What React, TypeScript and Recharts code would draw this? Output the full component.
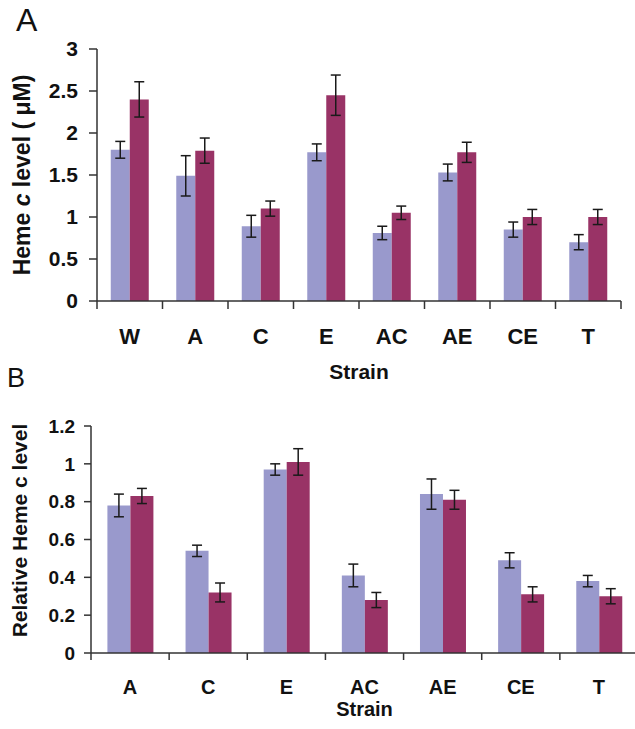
import React from 'react';
import { BarChart, Bar, XAxis, YAxis, ErrorBar, Label } from 'recharts';

const strainsA = ['W', 'A', 'C', 'E', 'AC', 'AE', 'CE', 'T'];
const lightA = [1.8, 1.49, 0.89, 1.77, 0.81, 1.53, 0.85, 0.7];
const lightErrA = [0.1, 0.24, 0.13, 0.1, 0.08, 0.1, 0.09, 0.09];
const darkA = [2.4, 1.79, 1.1, 2.45, 1.05, 1.77, 1.0, 1.0];
const darkErrA = [0.21, 0.15, 0.09, 0.24, 0.08, 0.12, 0.09, 0.09];
const ticksA = [0, 0.5, 1, 1.5, 2, 2.5, 3];

const strainsB = ['A', 'C', 'E', 'AC', 'AE', 'CE', 'T'];
const lightB = [0.78, 0.54, 0.97, 0.41, 0.84, 0.49, 0.38];
const lightErrB = [0.06, 0.03, 0.03, 0.06, 0.08, 0.04, 0.03];
const darkB = [0.83, 0.32, 1.01, 0.28, 0.81, 0.31, 0.3];
const darkErrB = [0.04, 0.05, 0.07, 0.04, 0.05, 0.04, 0.04];
const ticksB = [0, 0.2, 0.4, 0.6, 0.8, 1, 1.2];

const dataA = strainsA.map((s, i) => ({ strain: s, light: lightA[i], lightErr: lightErrA[i], dark: darkA[i], darkErr: darkErrA[i] }));
const dataB = strainsB.map((s, i) => ({ strain: s, light: lightB[i], lightErr: lightErrB[i], dark: darkB[i], darkErr: darkErrB[i] }));

const FONT = '"Liberation Sans", Arial, Helvetica, sans-serif';
const LIGHT = '#9999CC';
const DARK = '#993366';
const AXIS = '#333333';
const ERR = '#1a1a1a';

function makeTick(n: number, plotWidth: number, fontSize: number, tickSize: number, tickMargin: number) {
  return (props: any) => {
    const { x, y, payload, index } = props;
    const off = payload && typeof payload.offset === 'number' && payload.offset > 0 ? payload.offset : plotWidth / n / 2;
    const axisY = y - tickSize - tickMargin;
    return (
      <g>
        <line x1={x - off} x2={x - off} y1={axisY} y2={axisY + tickSize} stroke={AXIS} strokeWidth={1.5} />
        {index === n - 1 ? (
          <line x1={x + off} x2={x + off} y1={axisY} y2={axisY + tickSize} stroke={AXIS} strokeWidth={1.5} />
        ) : null}
        <text x={x} y={y} dy="0.71em" textAnchor="middle" fontFamily={FONT} fontWeight="bold" fontSize={fontSize} fill="#111">
          {payload.value}
        </text>
      </g>
    );
  };
}

function xTitle(dyBase: number, fontSize: number) {
  return (props: any) => {
    const vb = props.viewBox || { x: 0, y: 0, width: 0, height: 0 };
    return (
      <text x={vb.x + vb.width / 2} y={vb.y + dyBase} textAnchor="middle" fontFamily={FONT} fontWeight="bold" fontSize={fontSize} fill="#111">
        Strain
      </text>
    );
  };
}

function yTitleA(props: any) {
  const vb = props.viewBox || { x: 0, y: 0, width: 0, height: 0 };
  const cx = vb.x + 30;
  const cy = vb.y + vb.height / 2;
  return (
    <text x={cx} y={cy} transform={`rotate(-90, ${cx}, ${cy})`} textAnchor="middle" fontFamily={FONT} fontWeight="bold" fontSize={23} fill="#111">
      <tspan>Heme </tspan>
      <tspan fontStyle="italic">c</tspan>
      <tspan> level ( μM)</tspan>
    </text>
  );
}

function yTitleB(props: any) {
  const vb = props.viewBox || { x: 0, y: 0, width: 0, height: 0 };
  const cx = vb.x + 27;
  const cy = vb.y + vb.height / 2 - 9;
  return (
    <text x={cx} y={cy} transform={`rotate(-90, ${cx}, ${cy})`} textAnchor="middle" fontFamily={FONT} fontWeight="bold" fontSize={21} fill="#111">
      Relative Heme c level
    </text>
  );
}

export default function App() {
  return (
    <div style={{ position: 'absolute', left: 0, top: 0, width: 635, height: 729, overflow: 'hidden', background: '#fff' }}>
      <div style={{ position: 'absolute', left: 0, top: 0 }}>
        <BarChart width={635} height={390} data={dataA} margin={{ top: 49, right: 14, bottom: 0, left: 0 }} barCategoryGap="21%" barGap={0}>
          <XAxis
            dataKey="strain"
            height={89}
            interval={0}
            tickSize={8}
            tickMargin={19}
            tickLine={false}
            axisLine={{ stroke: AXIS, strokeWidth: 1.5 }}
            tick={makeTick(strainsA.length, 524, 22, 8, 19)}
            label={<Label content={xTitle(78, 21)} />}
          />
          <YAxis
            width={97}
            domain={[0, 3]}
            ticks={ticksA}
            interval={0}
            tickSize={8}
            tickMargin={11}
            axisLine={{ stroke: AXIS, strokeWidth: 1.5 }}
            tickLine={{ stroke: AXIS, strokeWidth: 1.5 }}
            tick={{ fontFamily: FONT, fontWeight: 'bold', fontSize: 21, fill: '#111' }}
            label={<Label content={yTitleA} />}
          />
          <Bar dataKey="light" fill={LIGHT} isAnimationActive={false}>
            <ErrorBar dataKey="lightErr" width={5} stroke={ERR} strokeWidth={1.5} direction="y" />
          </Bar>
          <Bar dataKey="dark" fill={DARK} isAnimationActive={false}>
            <ErrorBar dataKey="darkErr" width={5} stroke={ERR} strokeWidth={1.5} direction="y" />
          </Bar>
        </BarChart>
      </div>
      <div style={{ position: 'absolute', left: 0, top: 370 }}>
        <BarChart width={640} height={359} data={dataB} margin={{ top: 56, right: 2, bottom: 0, left: 0 }} barCategoryGap="21%" barGap={0}>
          <XAxis
            dataKey="strain"
            height={76}
            interval={0}
            tickSize={7}
            tickMargin={20}
            tickLine={false}
            axisLine={{ stroke: AXIS, strokeWidth: 1.5 }}
            tick={makeTick(strainsB.length, 547, 20, 7, 20)}
            label={<Label content={xTitle(63, 20)} />}
          />
          <YAxis
            width={91}
            domain={[0, 1.2]}
            ticks={ticksB}
            interval={0}
            tickSize={7}
            tickMargin={9}
            axisLine={{ stroke: AXIS, strokeWidth: 1.5 }}
            tickLine={{ stroke: AXIS, strokeWidth: 1.5 }}
            tick={{ fontFamily: FONT, fontWeight: 'bold', fontSize: 19, fill: '#111' }}
            label={<Label content={yTitleB} />}
          />
          <Bar dataKey="light" fill={LIGHT} isAnimationActive={false}>
            <ErrorBar dataKey="lightErr" width={5} stroke={ERR} strokeWidth={1.5} direction="y" />
          </Bar>
          <Bar dataKey="dark" fill={DARK} isAnimationActive={false}>
            <ErrorBar dataKey="darkErr" width={5} stroke={ERR} strokeWidth={1.5} direction="y" />
          </Bar>
        </BarChart>
      </div>
      <svg width={635} height={729} style={{ position: 'absolute', left: 0, top: 0, pointerEvents: 'none' }}>
        <text x={16} y={31} fontFamily={FONT} fontSize={32} fill="#111">A</text>
        <text x={7} y={387} fontFamily={FONT} fontSize={27} fill="#111">B</text>
      </svg>
    </div>
  );
}
